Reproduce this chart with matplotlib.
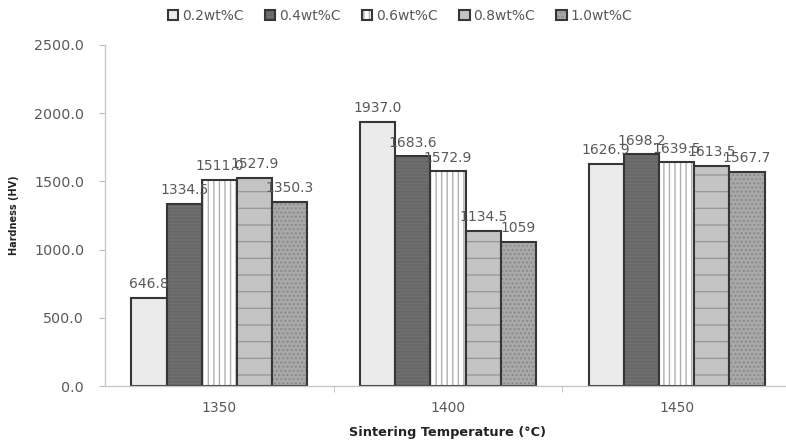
import matplotlib
matplotlib.use("Agg")
import matplotlib.pyplot as plt
import numpy as np

categories = ["1350", "1400", "1450"]
series_names = ["0.2wt%C", "0.4wt%C", "0.6wt%C", "0.8wt%C", "1.0wt%C"]
values = {
    "0.2wt%C": [646.8, 1937.0, 1626.9],
    "0.4wt%C": [1334.5, 1683.6, 1698.2],
    "0.6wt%C": [1511.0, 1572.9, 1639.5],
    "0.8wt%C": [1527.9, 1134.5, 1613.5],
    "1.0wt%C": [1350.3, 1059.0, 1567.7],
}
labels = {
    "0.2wt%C": ["646.8", "1937.0", "1626.9"],
    "0.4wt%C": ["1334.5", "1683.6", "1698.2"],
    "0.6wt%C": ["1511.0", "1572.9", "1639.5"],
    "0.8wt%C": ["1527.9", "1134.5", "1613.5"],
    "1.0wt%C": ["1350.3", "1059", "1567.7"],
}
yticks = [0, 500, 1000, 1500, 2000, 2500]

styles = [
    dict(facecolor="#ebebeb", hatch=None, hc="#d8d8d8"),
    dict(facecolor="#6f6f6f", hatch="-----", hc="#666666"),
    dict(facecolor="#ffffff", hatch="|||", hc="#b0b0b0"),
    dict(facecolor="#c4c4c4", hatch="-", hc="#999999"),
    dict(facecolor="#a9a9a9", hatch="....", hc="#8a8a8a"),
]

W, H = 786, 445
fig = plt.figure(figsize=(W / 100, H / 100), dpi=100)
left, right = 105 / W, 791 / W
bottom, top = (H - 386) / H, (H - 45) / H
ax = fig.add_axes([left, bottom, right - left, top - bottom])

x = np.arange(len(categories))
bw = 0.154
txtc = "#595959"
handles = []
for i, name in enumerate(series_names):
    st = styles[i]
    pos = x + (i - 2) * bw
    bars = ax.bar(pos, values[name], width=bw, facecolor=st["facecolor"],
                  edgecolor="#363636", linewidth=1.5, label=name, zorder=2)
    for b in bars:
        if st["hatch"]:
            b.set_hatch(st["hatch"])
        b._hatch_color = matplotlib.colors.to_rgba(st["hc"])
    for p, v, lab in zip(pos, values[name], labels[name]):
        ax.text(p, v + 50, lab, ha="center", va="bottom", fontsize=10,
                color=txtc, zorder=3)
    handles.append(bars)

ax.set_xlim(-0.5, 2.5)
ax.set_ylim(0, 2500)
ax.set_yticks(yticks)
ax.set_yticklabels([f"{t:.1f}" for t in yticks], fontsize=10.3, color=txtc)
ax.set_xticks(x)
ax.set_xticklabels(categories, fontsize=10, color=txtc)
ax.set_xticks([0.5, 1.5, 2.5], minor=True)
ax.tick_params(axis="x", which="major", length=0, pad=11)
ax.tick_params(axis="x", which="minor", length=4, color="#bbbbbb")
ax.tick_params(axis="y", length=4, color="#bbbbbb", pad=11)
for s in ["top", "right"]:
    ax.spines[s].set_visible(False)
for s in ["left", "bottom"]:
    ax.spines[s].set_color("#c8c8c8")
    ax.spines[s].set_linewidth(1.0)

ax.set_xlabel("Sintering Temperature (°C)", fontsize=9.3, fontweight="bold",
              color="#222222", labelpad=8)
ax.set_ylabel("Hardness (HV)", fontsize=7, fontweight="bold",
              color="#222222", labelpad=11)

leg = fig.legend(handles=handles, labels=series_names, loc="center",
                 bbox_to_anchor=(400 / W, 1 - 16 / H), ncol=5, frameon=False,
                 fontsize=10, handlelength=0.75, handleheight=0.75,
                 handletextpad=0.25, columnspacing=1.55, labelcolor=txtc)

fig.savefig("out.png", dpi=100, facecolor="white")
